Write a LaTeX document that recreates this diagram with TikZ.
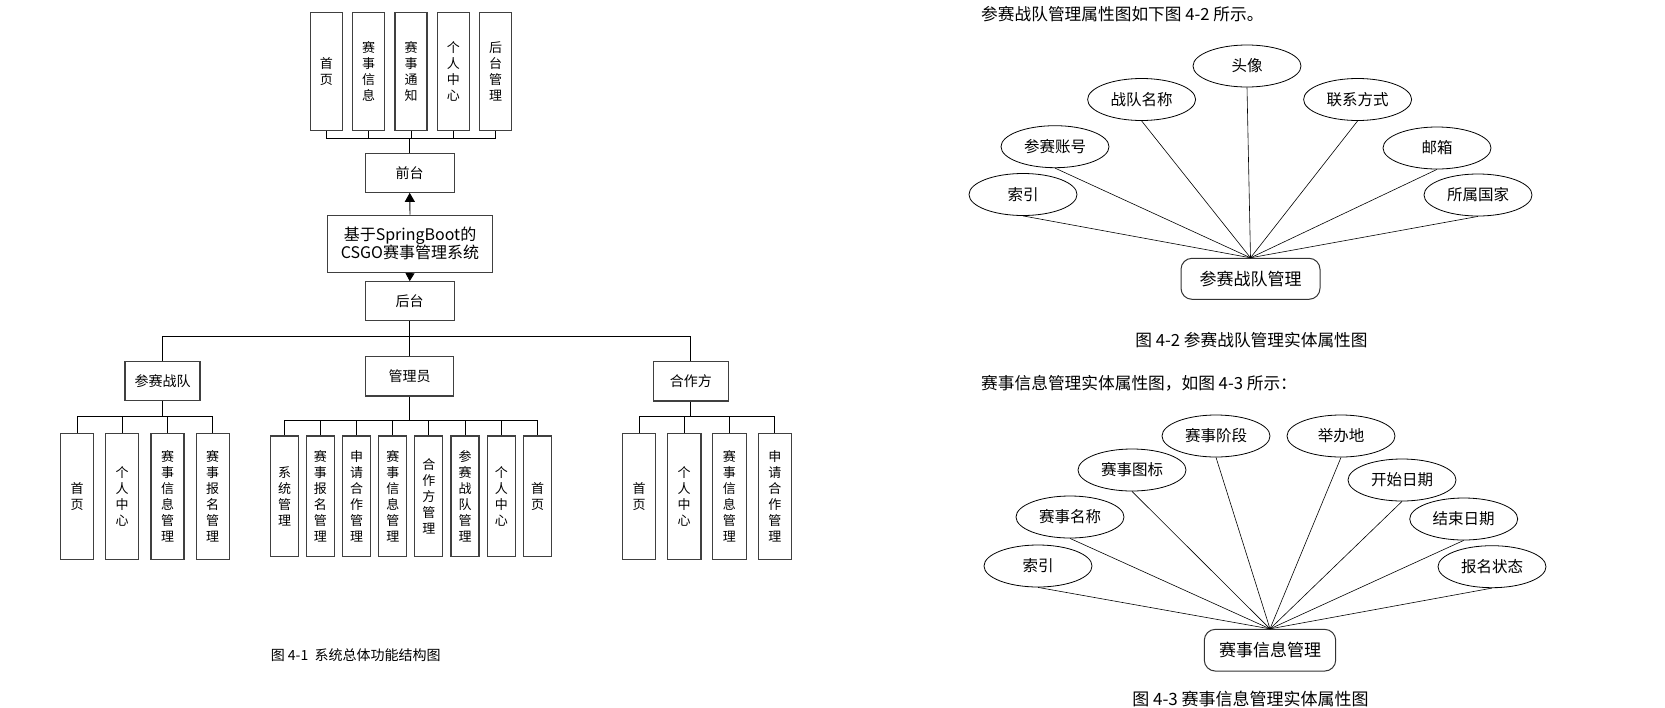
\documentclass[tikz,border=0pt]{standalone}
\usepackage{fontspec}
\setmainfont{Noto Sans CJK SC}
\usetikzlibrary{arrows.meta,shapes.geometric}

\begin{document}
\begin{tikzpicture}[x=1pt,y=-1pt,
    box/.style={shape=rectangle,draw=black!75,line width=1.1pt,inner sep=0pt,align=center},
    hbox/.style={box,font=\fontsize{14}{17}\selectfont},
    vbox/.style={box,font=\fontsize{13}{16}\selectfont},
    link/.style={draw=black,line width=0.9pt},
    attr/.style={shape=ellipse,draw=black,line width=0.8pt,minimum width=108pt,minimum height=42pt,inner sep=0pt,font=\fontsize{15.5}{18}\selectfont},
    entity/.style={shape=rectangle,rounded corners=11pt,draw=black!80,line width=1pt,minimum height=41pt,inner sep=0pt,font=\fontsize{17}{20}\selectfont},
    erline/.style={draw=black,line width=0.6pt},
    captext/.style={inner sep=0pt}]
\useasboundingbox (0,0) rectangle (1665,707);

\node[vbox,minimum width=32pt,minimum height=118pt] (t1) at (326.3,71.7) {首\\页};
\node[vbox,minimum width=32pt,minimum height=118pt] (t2) at (368.7,71.7) {赛\\事\\信\\息};
\node[vbox,minimum width=32pt,minimum height=118pt] (t3) at (411,71.7) {赛\\事\\通\\知};
\node[vbox,minimum width=32pt,minimum height=118pt] (t4) at (453.3,71.7) {个\\人\\中\\心};
\node[vbox,minimum width=32pt,minimum height=118pt] (t5) at (495.7,71.7) {后\\台\\管\\理};

\node[hbox,minimum width=88.7pt,minimum height=39pt] (qt) at (409.7,172.8) {前台};
\node[box,minimum width=165.4pt,minimum height=57.3pt,font=\fontsize{16}{18.3}\selectfont] (sys) at (410,243.7) {基于SpringBoot的\\CSGO赛事管理系统};
\node[hbox,minimum width=88.7pt,minimum height=39pt] (ht) at (409.7,301.2) {后台};

\node[hbox,minimum width=75pt,minimum height=39.7pt] (cs) at (162.5,381) {参赛战队};
\node[hbox,minimum width=88.4pt,minimum height=39.3pt] (gl) at (409.7,376.3) {管理员};
\node[hbox,minimum width=75pt,minimum height=39.3pt] (hz) at (690.8,381.3) {合作方};

\node[vbox,minimum width=33pt,minimum height=126pt] (c1) at (77,496.2) {首\\页};
\node[vbox,minimum width=33pt,minimum height=126pt] (c2) at (122.2,496.2) {个\\人\\中\\心};
\node[vbox,minimum width=33pt,minimum height=126pt] (c3) at (167.5,496.2) {赛\\事\\信\\息\\管\\理};
\node[vbox,minimum width=33pt,minimum height=126pt] (c4) at (212.7,496.2) {赛\\事\\报\\名\\管\\理};

\node[vbox,minimum width=28pt,minimum height=120.7pt] (m1) at (284.5,496.3) {系\\统\\管\\理};
\node[vbox,minimum width=28pt,minimum height=120.7pt] (m2) at (320.3,496.3) {赛\\事\\报\\名\\管\\理};
\node[vbox,minimum width=28pt,minimum height=120.7pt] (m3) at (356.7,496.3) {申\\请\\合\\作\\管\\理};
\node[vbox,minimum width=28pt,minimum height=120.7pt] (m4) at (392.8,496.3) {赛\\事\\信\\息\\管\\理};
\node[vbox,minimum width=28pt,minimum height=120.7pt] (m5) at (428.8,496.3) {合\\作\\方\\管\\理};
\node[vbox,minimum width=28pt,minimum height=120.7pt] (m6) at (465,496.3) {参\\赛\\战\\队\\管\\理};
\node[vbox,minimum width=28pt,minimum height=120.7pt] (m7) at (501.3,496.3) {个\\人\\中\\心};
\node[vbox,minimum width=28pt,minimum height=120.7pt] (m8) at (537.5,496.3) {首\\页};

\node[vbox,minimum width=33.5pt,minimum height=126pt] (h1) at (639,496.3) {首\\页};
\node[vbox,minimum width=33.5pt,minimum height=126pt] (h2) at (684.2,496.3) {个\\人\\中\\心};
\node[vbox,minimum width=33.5pt,minimum height=126pt] (h3) at (729.3,496.3) {赛\\事\\信\\息\\管\\理};
\node[vbox,minimum width=33.5pt,minimum height=126pt] (h4) at (774.8,496.3) {申\\请\\合\\作\\管\\理};

\coordinate (topbus) at (409.7,138.3);
\coordinate (bus) at (409.7,336.7);
\coordinate (csbus) at (162.5,416.7);
\coordinate (glbus) at (409.7,420.3);
\coordinate (hzbus) at (690.8,416.7);

\draw[link] (t1.south) |- (topbus) -| (t5.south);
\foreach \i in {2,3,4} \draw[link] (t\i.south) -- (t\i.south |- topbus);
\draw[link] (topbus) -- (qt.north);
\draw[link,-{Triangle[width=10pt,length=9pt]}] (sys.north) -- (qt.south);
\draw[link,-{Triangle[width=9pt,length=8pt]}] (sys.south) -- (ht.north);
\draw[link] (ht.south) -- (bus);
\draw[link] (cs.north) |- (bus) -| (hz.north);
\draw[link] (gl.north) -- (gl.north |- bus);

\draw[link] (cs.south) -- (csbus);
\draw[link] (c1.north) |- (csbus) -| (c4.north);
\foreach \i in {2,3} \draw[link] (c\i.north) -- (c\i.north |- csbus);

\draw[link] (gl.south) -- (glbus);
\draw[link] (m1.north) |- (glbus) -| (m8.north);
\foreach \i in {2,...,7} \draw[link] (m\i.north) -- (m\i.north |- glbus);

\draw[link] (hz.south) -- (hzbus);
\draw[link] (h1.north) |- (hzbus) -| (h4.north);
\foreach \i in {2,3} \draw[link] (h\i.north) -- (h\i.north |- hzbus);

\node[captext,font=\fontsize{14}{17}\selectfont] (cap1) at (355.7,655) {图 4-1\ \ 系统总体功能结构图};

\node[captext,anchor=west,font=\fontsize{16.7}{20}\selectfont] (txt1) at (981,14) {参赛战队管理属性图如下图 4-2 所示。};

\node[entity,minimum width=139pt] (team) at (1250.5,278.8) {参赛战队管理};
\node[attr] (a1) at (1023,194.5) {索引};
\node[attr] (a2) at (1055,146.7) {参赛账号};
\node[attr] (a3) at (1141.6,99.5) {战队名称};
\node[attr] (a4) at (1247,66) {头像};
\node[attr] (a5) at (1357.6,99.5) {联系方式};
\node[attr] (a6) at (1437,148) {邮箱};
\node[attr] (a7) at (1478,195) {所属国家};
\foreach \i in {1,...,7} \draw[erline] (a\i.south) -- (team.north);

\node[captext,font=\fontsize{16.7}{20}\selectfont] (cap2) at (1251.5,340) {图 4-2 参赛战队管理实体属性图};

\node[captext,anchor=west,font=\fontsize{16.7}{20}\selectfont] (txt2) at (981,383.5) {赛事信息管理实体属性图，如图 4-3 所示：};

\node[entity,minimum width=131.4pt,minimum height=41.7pt] (match) at (1270,650.2) {赛事信息管理};
\node[attr] (b1) at (1038,566) {索引};
\node[attr] (b2) at (1070,517) {赛事名称};
\node[attr] (b3) at (1132,470) {赛事图标};
\node[attr] (b4) at (1216,436) {赛事阶段};
\node[attr] (b5) at (1341,436) {举办地};
\node[attr] (b6) at (1402,480) {开始日期};
\node[attr] (b7) at (1463.7,519) {结束日期};
\node[attr] (b8) at (1492,566.7) {报名状态};
\foreach \i in {1,...,8} \draw[erline] (b\i.south) -- (match.north);

\node[captext,font=\fontsize{17}{20}\selectfont] (cap3) at (1250.5,699) {图 4-3 赛事信息管理实体属性图};
\end{tikzpicture}
\end{document}
